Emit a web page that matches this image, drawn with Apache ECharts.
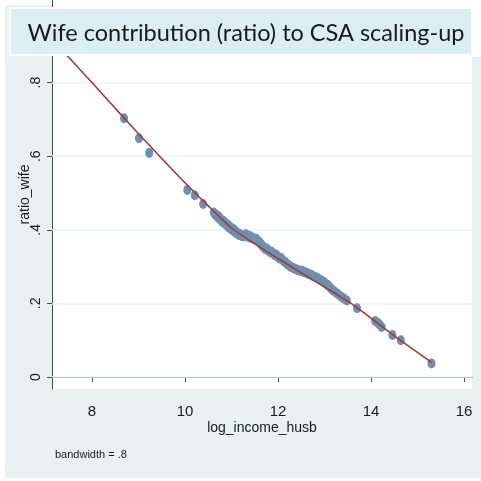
<!DOCTYPE html>
<html>
<head>
<meta charset="utf-8">
<script src="https://cdn.jsdelivr.net/npm/echarts@6/dist/echarts.min.js"></script>
<style>
html,body{margin:0;padding:0;background:#fff;}
#c{width:481px;height:481px;}
</style>
</head>
<body>
<div id="c"></div>
<script>
// ---- data ----
const titleText = 'Wife contribution (ratio) to CSA scaling-up';
const xName = 'log_income_husb';
const yName = 'ratio_wife';
const noteText = 'bandwidth = .8';

const xTickValues = [8, 10, 12, 14, 16];
const xTickLabels = ['8', '10', '12', '14', '16'];
const yTickValues = [0, 0.2, 0.4, 0.6, 0.8];
const yTickLabels = ['0', '.2', '.4', '.6', '.8'];

// observed points
const pointX = [8.69, 9.01, 9.23, 10.05, 10.21, 10.39,
  10.62, 10.65, 10.68, 10.70, 10.73, 10.75, 10.78, 10.80, 10.83, 10.85, 10.88, 10.90, 10.93, 10.95, 10.98,
  11.00, 11.03, 11.05, 11.08, 11.10, 11.13, 11.16, 11.19, 11.22, 11.25, 11.28, 11.31, 11.34, 11.37, 11.40,
  11.43, 11.46, 11.50, 11.53, 11.56, 11.60, 11.63, 11.66, 11.70, 11.73, 11.76, 11.80, 11.83, 11.86, 11.90,
  11.93, 11.96, 12.00, 12.03, 12.06, 12.10, 12.13, 12.17, 12.20, 12.24, 12.28, 12.32, 12.36, 12.40, 12.44,
  12.48, 12.52, 12.56, 12.60, 12.64, 12.68, 12.72, 12.76, 12.80, 12.84, 12.88, 12.92, 12.96, 13.00, 13.04,
  13.08, 13.12, 13.16, 13.20, 13.25, 13.30, 13.36, 13.42, 13.48, 13.70, 14.09, 14.14, 14.18, 14.23, 14.46,
  14.64, 15.30];
const pointY = [0.703, 0.649, 0.609, 0.508, 0.494, 0.470,
  0.447, 0.441, 0.440, 0.434, 0.436, 0.429, 0.428, 0.422, 0.424, 0.417, 0.418, 0.412, 0.413, 0.406, 0.407,
  0.401, 0.403, 0.396, 0.398, 0.391, 0.392, 0.386, 0.388, 0.383, 0.382, 0.384, 0.388, 0.385, 0.380, 0.383,
  0.377, 0.378, 0.374, 0.376, 0.371, 0.367, 0.362, 0.357, 0.352, 0.347, 0.349, 0.343, 0.339, 0.341, 0.335,
  0.331, 0.333, 0.327, 0.322, 0.324, 0.318, 0.314, 0.311, 0.306, 0.303, 0.299, 0.297, 0.294, 0.292, 0.290,
  0.288, 0.289, 0.285, 0.284, 0.281, 0.279, 0.277, 0.274, 0.272, 0.270, 0.266, 0.263, 0.260, 0.257, 0.252,
  0.249, 0.243, 0.238, 0.234, 0.229, 0.224, 0.218, 0.213, 0.208, 0.187, 0.152, 0.148, 0.143, 0.136, 0.114,
  0.100, 0.037];

// lowess fit
const fitX = [7.2, 7.5, 8.0, 8.5, 9.0, 9.5, 10.0, 10.5, 11.0, 11.5, 12.0, 12.5, 13.0, 13.5, 14.0, 14.5, 15.0, 15.3];
const fitY = [0.91, 0.869, 0.80, 0.73, 0.661, 0.594, 0.528, 0.465, 0.405, 0.362, 0.322, 0.283, 0.245, 0.206, 0.16, 0.112, 0.067, 0.04];

// ---- chart ----
const FONT = "'Liberation Sans', Arial, sans-serif";
function lookup(vals, labels, v) {
  const i = vals.findIndex(t => Math.abs(t - v) < 1e-6);
  return i >= 0 ? labels[i] : '';
}
const scatterData = pointX.map((x, i) => [x, pointY[i]]);
const fitData = fitX.map((x, i) => [x, fitY[i]]);

const chart = echarts.init(document.getElementById('c'), null, {renderer: 'canvas'});
chart.setOption({
  animation: false,
  backgroundColor: 'transparent',
  grid: {left: 52, right: 9, top: 0, bottom: 92, show: true, backgroundColor: '#ffffff', borderWidth: 0},
  xAxis: {
    type: 'value', min: 7.14, max: 16.172,
    name: xName, nameLocation: 'middle', nameGap: 32, nameMoveOverlap: false,
    nameTextStyle: {fontFamily: FONT, fontSize: 14, color: '#1a1a1a'},
    axisLine: {show: true, lineStyle: {color: '#4a4a4a', width: 1}},
    axisTick: {show: true, customValues: xTickValues, length: 5, lineStyle: {color: '#4a4a4a'}},
    axisLabel: {customValues: xTickValues, margin: 15, fontFamily: FONT, fontSize: 15, color: '#1a1a1a',
      formatter: v => lookup(xTickValues, xTickLabels, v)},
    splitLine: {show: false}
  },
  yAxis: {
    type: 'value', min: -0.0326, max: 1.0245,
    name: yName, nameLocation: 'middle', nameGap: 20, nameRotate: 90, nameMoveOverlap: false,
    nameTextStyle: {fontFamily: FONT, fontSize: 14, color: '#1a1a1a'},
    axisLine: {show: true, lineStyle: {color: '#4a4a4a', width: 1}},
    axisTick: {show: true, customValues: yTickValues, length: 5, lineStyle: {color: '#4a4a4a'}},
    axisLabel: {customValues: yTickValues, rotate: 90, margin: 9, fontFamily: FONT, fontSize: 14, color: '#1a1a1a',
      formatter: v => lookup(yTickValues, yTickLabels, v)},
    splitLine: {show: false}
  },
  series: [
    {
      type: 'scatter', data: [], z: 1, silent: true,
      markLine: {
        z: 1, silent: true, symbol: 'none', label: {show: false},
        lineStyle: {color: '#ebf2f3', width: 1.5, type: 'solid'},
        data: yTickValues.map(v => ({yAxis: v}))
      }
    },
    {
      type: 'scatter', data: scatterData, z: 10, silent: true,
      symbol: 'circle', symbolSize: [8, 10],
      itemStyle: {color: '#6f8fb0', opacity: 1}
    },
    {
      type: 'line', data: fitData, z: 11, silent: true, showSymbol: false, smooth: 0.2,
      lineStyle: {color: '#a33535', width: 1.5}
    }
  ],
  graphic: {
    elements: [
      {type: 'rect', z: -100, silent: true, shape: {x: 5, y: 5, width: 467, height: 473}, style: {fill: '#e9f0f2'}},
      {type: 'rect', z: -100, silent: true, shape: {x: 472, y: 57, width: 9, height: 421}, style: {fill: '#e9f0f2'}},
      {type: 'rect', z: 100, silent: true, shape: {x: 10, y: 8, width: 462, height: 47},
        style: {fill: '#dbeef4', stroke: '#ffffff', lineWidth: 2}},
      {type: 'text', z: 101, silent: true, x: 246, y: 33,
        style: {text: titleText, fontFamily: "Lato, 'Open Sans', sans-serif", fontSize: 23.5, fill: '#1a1a1a',
          align: 'center', verticalAlign: 'middle'}},
      {type: 'text', z: 101, silent: true, x: 55, y: 455,
        style: {text: noteText, fontFamily: FONT, fontSize: 11, fill: '#1a1a1a', align: 'left', verticalAlign: 'middle'}}
    ]
  }
});
</script>
</body>
</html>
